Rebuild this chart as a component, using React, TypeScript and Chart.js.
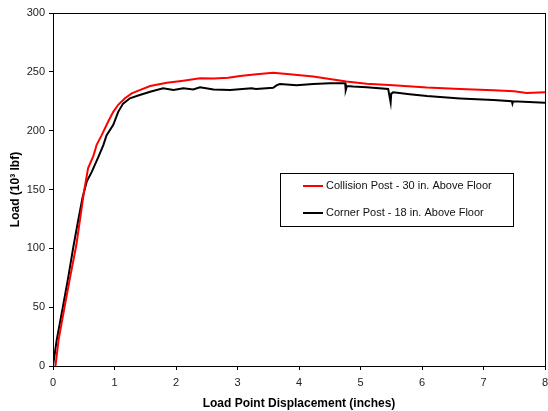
import React, { useEffect, useRef } from "react";
import { Chart, registerables } from "chart.js";

Chart.register(...registerables);

const seriesLabels = [
  "Collision Post - 30 in. Above Floor",
  "Corner Post - 18 in. Above Floor",
];
const seriesColors = ["#ff0000", "#000000"];

const collisionX = [0.04, 0.09, 0.18, 0.28, 0.38, 0.46, 0.5, 0.57, 0.66, 0.71, 0.79, 0.9, 0.98, 1.06, 1.17, 1.28, 1.41, 1.58, 1.85, 2.12, 2.39, 2.61, 2.85, 3.04, 3.31, 3.58, 3.85, 4.23, 4.5, 4.77, 5.1, 5.53, 6.08, 6.62, 7.16, 7.5, 7.7, 8.0];
const collisionY = [0, 22, 48, 76, 103, 132, 147, 168, 179, 188, 196, 208, 216, 222, 227.5, 231.7, 234.5, 238, 240.8, 242.5, 244.5, 244.3, 245, 246.4, 248, 249.2, 248, 246, 244, 241.8, 239.8, 238.7, 236.7, 235.5, 234.3, 233.5, 232, 232.6];

const cornerX = [0, 0.06, 0.16, 0.25, 0.33, 0.41, 0.48, 0.55, 0.63, 0.74, 0.82, 0.87, 0.98, 1.06, 1.14, 1.25, 1.41, 1.58, 1.79, 1.96, 2.12, 2.28, 2.39, 2.61, 2.88, 3.23, 3.3, 3.58, 3.64, 3.69, 3.96, 4.23, 4.5, 4.75, 4.76, 4.78, 4.88, 5.1, 5.45, 5.49, 5.5, 5.53, 5.8, 6.08, 6.62, 7.16, 7.46, 7.47, 7.48, 8.0];
const cornerY = [0, 22, 50, 76, 101, 124, 143, 157, 165, 178, 188, 196, 205, 216, 223, 227.5, 230.3, 233.1, 236, 234.6, 236, 235, 236.8, 235, 234.5, 236, 235.5, 236.5, 238.7, 239.6, 238.7, 239.6, 240.4, 240.4, 234.5, 238, 237.6, 237, 235.5, 224, 231.5, 232.6, 231, 229.4, 227.4, 226, 225, 223, 225, 223.7];

const xTicks = [0, 1, 2, 3, 4, 5, 6, 7, 8];
const yTicks = [0, 50, 100, 150, 200, 250, 300];

const FONT = "'Liberation Sans', Arial, sans-serif";

const toPoints = (xs: number[], ys: number[]) => xs.map((x, i) => ({ x, y: ys[i] }));

const framePlugin = {
  id: "frame",
  beforeDatasetsDraw(chart: any) {
    const { ctx, chartArea } = chart;
    ctx.save();
    ctx.strokeStyle = "#000";
    ctx.lineWidth = 1;
    ctx.strokeRect(
      Math.round(chartArea.left) + 0.5,
      Math.round(chartArea.top) + 0.5,
      Math.round(chartArea.right - chartArea.left),
      Math.round(chartArea.bottom - chartArea.top)
    );
    ctx.restore();
  },
  afterDraw(chart: any) {
    const { ctx } = chart;
    const bx = 280, by = 173, bw = 233, bh = 53;
    ctx.save();
    ctx.fillStyle = "#fff";
    ctx.fillRect(bx, by, bw, bh);
    ctx.strokeStyle = "#000";
    ctx.lineWidth = 1;
    ctx.strokeRect(bx + 0.5, by + 0.5, bw, bh);
    ctx.font = `11px ${FONT}`;
    ctx.textBaseline = "middle";
    chart.data.datasets.forEach((ds: any, i: number) => {
      const y = by + 13 + i * 27;
      ctx.strokeStyle = ds.borderColor;
      ctx.lineWidth = 2;
      ctx.beginPath();
      ctx.moveTo(bx + 23, y);
      ctx.lineTo(bx + 43, y);
      ctx.stroke();
      ctx.fillStyle = "#111";
      ctx.fillText(ds.label, bx + 46, y);
    });
    ctx.restore();
  },
};

export default function App() {
  const ref = useRef<HTMLCanvasElement | null>(null);
  useEffect(() => {
    if (!ref.current) return;
    const chart = new Chart(ref.current, {
      type: "scatter",
      data: {
        datasets: [
          {
            label: seriesLabels[0],
            data: toPoints(collisionX, collisionY),
            borderColor: seriesColors[0],
            backgroundColor: seriesColors[0],
            showLine: true,
            pointRadius: 0,
            borderWidth: 2,
            tension: 0,
          },
          {
            label: seriesLabels[1],
            data: toPoints(cornerX, cornerY),
            borderColor: seriesColors[1],
            backgroundColor: seriesColors[1],
            showLine: true,
            pointRadius: 0,
            borderWidth: 2,
            tension: 0,
          },
        ],
      },
      options: {
        animation: false,
        responsive: false,
        devicePixelRatio: 1,
        layout: { padding: { top: 13, right: 3, left: 0, bottom: 0 } },
        plugins: {
          legend: { display: false },
          tooltip: { enabled: false },
        },
        scales: {
          x: {
            type: "linear",
            min: 0,
            max: 8,
            afterBuildTicks: (s: any) => {
              s.ticks = xTicks.map((v) => ({ value: v }));
            },
            afterFit: (s: any) => {
              s.height = 45;
              s.paddingLeft = 0;
              s.paddingRight = 0;
            },
            ticks: { font: { family: FONT, size: 11 }, color: "#222", padding: 6, maxRotation: 0 },
            grid: { drawOnChartArea: false, drawTicks: true, tickLength: 4, color: "#000" },
            border: { display: true, color: "#000", width: 1 },
            title: {
              display: true,
              text: "Load Point Displacement (inches)",
              font: { family: FONT, size: 12, weight: "bold" },
              color: "#000",
              padding: { top: 4, bottom: 0 },
            },
          },
          y: {
            type: "linear",
            min: 0,
            max: 300,
            afterBuildTicks: (s: any) => {
              s.ticks = yTicks.map((v) => ({ value: v }));
            },
            afterFit: (s: any) => {
              s.width = 53;
              s.paddingTop = 0;
              s.paddingBottom = 0;
            },
            ticks: { font: { family: FONT, size: 11 }, color: "#222", padding: 4 },
            grid: { drawOnChartArea: false, drawTicks: true, tickLength: 4, color: "#000" },
            border: { display: true, color: "#000", width: 1 },
            title: {
              display: true,
              text: "Load (10³ lbf)",
              font: { family: FONT, size: 12, weight: "bold" },
              color: "#000",
              padding: { top: 8, bottom: 0 },
            },
          },
        },
      },
      plugins: [framePlugin],
    });
    return () => chart.destroy();
  }, []);
  return (
    <div style={{ position: "absolute", left: 0, top: 0, width: 548, height: 411, background: "#fff" }}>
      <canvas ref={ref} width={548} height={411} />
    </div>
  );
}
